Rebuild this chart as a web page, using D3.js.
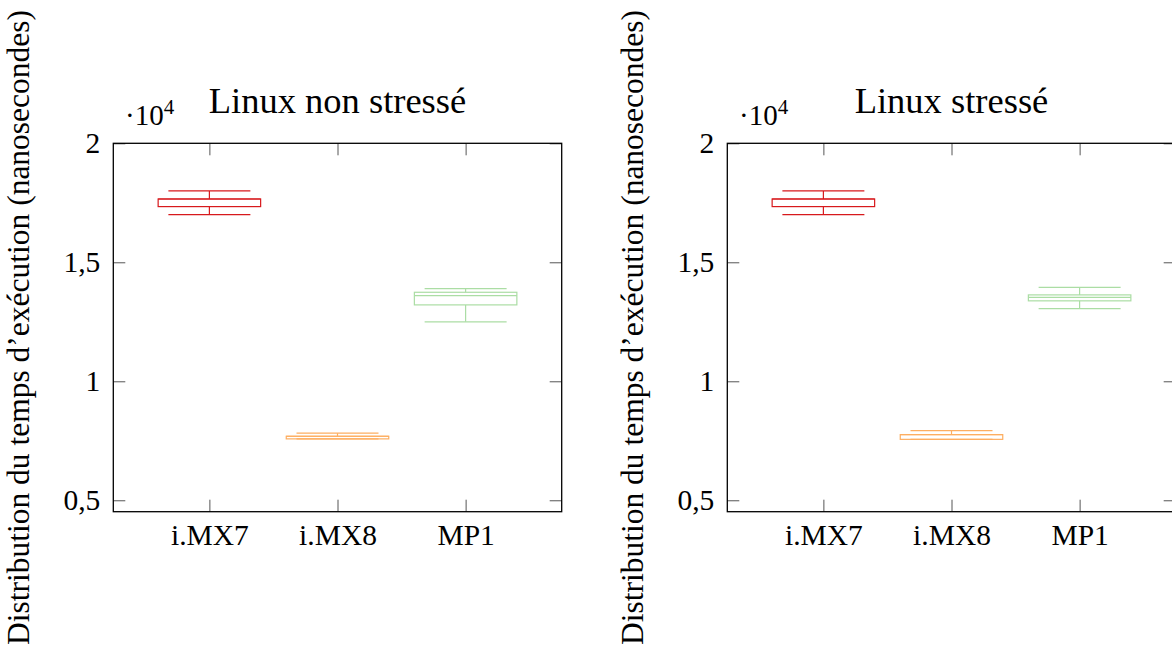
<!DOCTYPE html>
<html>
<head>
<meta charset="utf-8">
<script src="https://cdnjs.cloudflare.com/ajax/libs/d3/7.8.5/d3.min.js"></script>
<style>
  body { margin: 0; background: #fff; }
  #chart, #chart text { font-family: "Liberation Serif", "DejaVu Serif", serif; fill: #000; }
</style>
</head>
<body>
<svg id="chart" width="1172" height="648"></svg>
<script>
var categories = ['i.MX7', 'i.MX8', 'MP1'];
var colors = ['#d7191c', '#fdae61', '#abdda4'];
var yTicks = [0.5, 1, 1.5, 2];
var titles = ['Linux non stressé', 'Linux stressé'];
var yLabel = 'Distribution du temps d\u2019exécution (nanosecondes)';

// one row per board, in 10^4 ns: lower whisker, q1, median, q3, upper whisker
var nonStressed = [
  [1.700, 1.734, 1.766, 1.766, 1.800],
  [0.758, 0.758, 0.769, 0.769, 0.782],
  [1.250, 1.321, 1.360, 1.374, 1.389]
];
var stressed = [
  [1.700, 1.734, 1.766, 1.766, 1.800],
  [0.756, 0.756, 0.776, 0.776, 0.7925],
  [1.305, 1.338, 1.353, 1.363, 1.395]
];

(function() {
  var serif = '"Liberation Serif", "DejaVu Serif", serif';
  var svg = d3.select('#chart');
  var width = 448.4, height = 368.4, top = 143.3;

  var x = d3.scaleLinear().domain([0.25, 3.75]).range([0, width]);
  var y = d3.scaleLinear().domain([0.452, 2]).range([height, 0]);

  var drawPanel = function(data, title, left) {
    var g = svg.append('g').attr('transform', 'translate(' + left + ',' + top + ')');

    // y label, rotated, at the far left of the panel
    g.append('text')
      .attr('transform', 'translate(' + (-84) + ',' + (height / 2) + ') rotate(-90)')
      .attr('text-anchor', 'middle')
      .style('font-family', serif)
      .style('font-size', '31.5px')
      .text(yLabel);

    g.append('text')
      .attr('x', width / 2).attr('y', -30)
      .attr('text-anchor', 'middle')
      .style('font-family', serif)
      .style('font-size', '36.5px')
      .text(title);

    var expo = g.append('text').attr('x', 11.7).attr('y', -18)
      .style('font-family', serif).style('font-size', '29px');
    expo.append('tspan').text('\u00b710');
    expo.append('tspan').attr('dy', -11).style('font-size', '21px').text('4');

    var fmt = function(d) { return String(d).replace('.', ','); };

    var axes = [
      {axis: d3.axisLeft(y).tickValues(yTicks).tickFormat(fmt).tickPadding(13), t: [0, 0]},
      {axis: d3.axisRight(y).tickValues(yTicks).tickFormat(''), t: [width, 0]},
      {axis: d3.axisBottom(x).tickValues([1, 2, 3]).tickFormat(function(d) { return categories[d - 1]; }).tickPadding(12), t: [0, height]},
      {axis: d3.axisTop(x).tickValues([1, 2, 3]).tickFormat(''), t: [0, 0]}
    ];
    axes.forEach(function(a) {
      var ag = g.append('g')
        .attr('transform', 'translate(' + a.t[0] + ',' + a.t[1] + ')')
        .call(a.axis.tickSizeInner(-12).tickSizeOuter(0));
      ag.attr('font-family', null).attr('font-size', null);
      ag.select('.domain').remove();
      ag.selectAll('.tick line').attr('stroke', '#555').attr('stroke-width', 1);
      ag.selectAll('.tick text').style('font-family', serif).style('font-size', '29.5px');
    });

    g.append('rect')
      .attr('width', width).attr('height', height)
      .attr('fill', 'none').attr('stroke', '#000').attr('stroke-width', 1.3);

    var boxes = g.selectAll('.box').data(data).enter().append('g')
      .attr('class', 'box')
      .attr('stroke', function(d, i) { return colors[i]; })
      .attr('stroke-width', 1.2)
      .attr('fill', 'none');

    boxes.each(function(d, i) {
      var b = d3.select(this), c = i + 1;
      b.append('line').attr('x1', x(c)).attr('x2', x(c)).attr('y1', y(d[0])).attr('y2', y(d[1]));
      b.append('line').attr('x1', x(c)).attr('x2', x(c)).attr('y1', y(d[3])).attr('y2', y(d[4]));
      [d[0], d[4]].forEach(function(v) {
        b.append('line').attr('x1', x(c - 0.32)).attr('x2', x(c + 0.32)).attr('y1', y(v)).attr('y2', y(v));
      });
      b.append('rect')
        .attr('x', x(c - 0.4)).attr('width', x(c + 0.4) - x(c - 0.4))
        .attr('y', y(d[3])).attr('height', y(d[1]) - y(d[3]));
      b.append('line').attr('x1', x(c - 0.4)).attr('x2', x(c + 0.4)).attr('y1', y(d[2])).attr('y2', y(d[2]));
    });
  };

  drawPanel(nonStressed, titles[0], 113.3);
  drawPanel(stressed, titles[1], 727.3);
})();
</script>
</body>
</html>
